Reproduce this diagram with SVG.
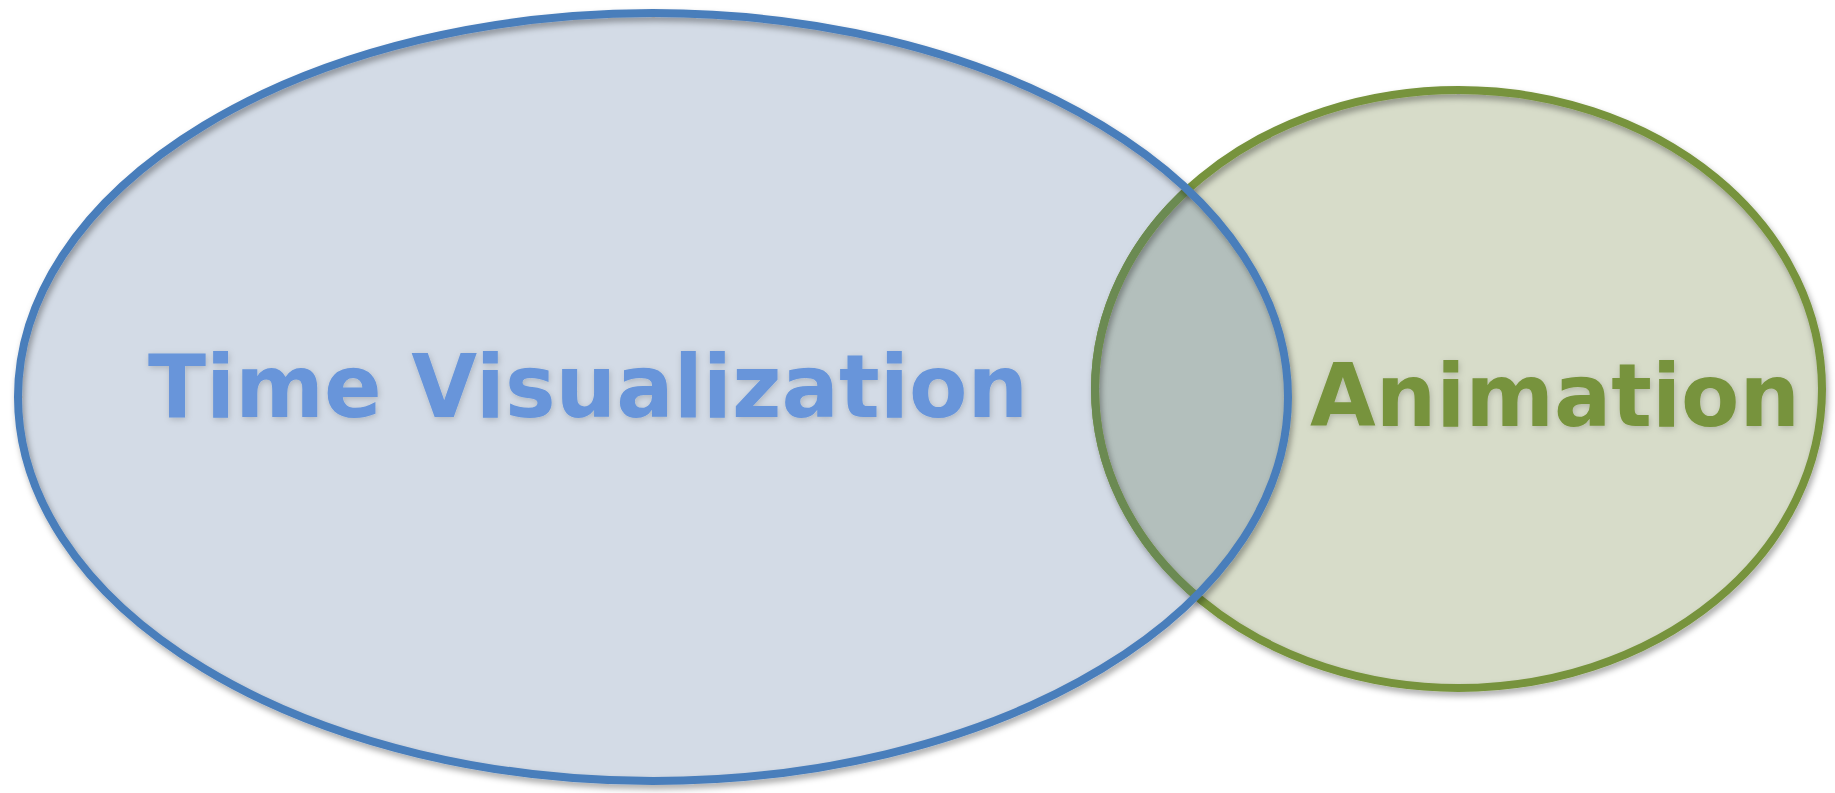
<svg xmlns="http://www.w3.org/2000/svg" width="1835" height="793" viewBox="0 0 1835 793">
  <style>
    .label { font-family: "DejaVu Sans", Verdana, sans-serif; font-weight: bold; font-size: 87px; }
    .blue-text { fill: #6795da; }
    .green-text { fill: #77933c; }
    .edge { fill: none; stroke-width: 8; }
  </style>
  <defs>
    <filter id="shadow" x="-10%" y="-10%" width="120%" height="120%">
      <feDropShadow dx="2" dy="4" stdDeviation="3" flood-color="#000" flood-opacity="0.35"/>
    </filter>
    <filter id="glow" x="-5%" y="-20%" width="110%" height="140%">
      <feDropShadow dx="1" dy="2" stdDeviation="3" flood-color="#000" flood-opacity="0.18"/>
    </filter>
    <clipPath id="clipBlue">
      <ellipse cx="653" cy="397" rx="635" ry="384"/>
    </clipPath>
  </defs>

  <g id="time-visualization">
    <ellipse cx="653" cy="397" rx="635" ry="384" fill="#d3dbe6"/>
  </g>

  <g id="animation">
    <ellipse cx="1458.5" cy="389" rx="363.5" ry="299" fill="#d7dcc9"/>
  </g>

  <g id="overlap">
    <ellipse cx="1458.5" cy="389" rx="363.5" ry="299" fill="#b3bfbc" clip-path="url(#clipBlue)"/>
  </g>

  <g id="outlines">
    <ellipse class="edge" cx="1458.5" cy="389" rx="363.5" ry="299" stroke="#77933c" filter="url(#shadow)"/>
    <ellipse class="edge" cx="1458.5" cy="389" rx="363.5" ry="299" stroke="#6b8a52" clip-path="url(#clipBlue)"/>
    <ellipse class="edge" cx="653" cy="397" rx="635" ry="384" stroke="#4a7ebb" filter="url(#shadow)"/>
  </g>

  <g id="labels">
    <text class="label blue-text" x="148" y="417" textLength="880" lengthAdjust="spacingAndGlyphs" filter="url(#glow)">Time Visualization</text>
    <text class="label green-text" x="1310" y="426" textLength="490" lengthAdjust="spacingAndGlyphs" filter="url(#glow)">Animation</text>
  </g>

  <g id="connectors"/>
</svg>
